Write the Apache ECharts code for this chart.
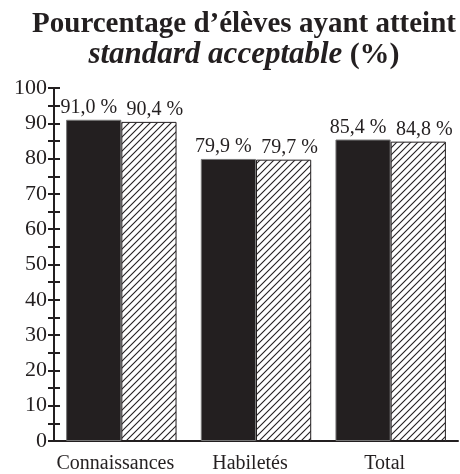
<!DOCTYPE html>
<html>
<head>
<meta charset="utf-8">
<script src="https://cdn.jsdelivr.net/npm/echarts@6/dist/echarts.min.js"></script>
<style>
  html, body { margin: 0; padding: 0; background: #fff; }
  #main { width: 460px; height: 474px; }
</style>
</head>
<body>
<div id="main"></div>
<script>
// donnees du graphique
var categories = ["Connaissances", "Habiletés", "Total"];
var serieNoire = [91.0, 79.9, 85.4];
var serieHachuree = [90.4, 79.7, 84.8];
var yTicks = [0, 10, 20, 30, 40, 50, 60, 70, 80, 90, 100];

var encre = "#231f20";
var police = "Liberation Serif";

// motif hachure "/"
function hachure() {
  var c = document.createElement("canvas");
  c.width = 7;
  c.height = 7;
  var ctx = c.getContext("2d");
  ctx.fillStyle = "#fff";
  ctx.fillRect(0, 0, 7, 7);
  ctx.strokeStyle = encre;
  ctx.lineWidth = 1.1;
  ctx.beginPath();
  ctx.moveTo(-1, 8); ctx.lineTo(8, -1);
  ctx.moveTo(-8, 8); ctx.lineTo(1, -1);
  ctx.moveTo(6, 8); ctx.lineTo(15, -1);
  ctx.stroke();
  return c;
}

function fmt(v) {
  return v.toFixed(1).replace(".", ",") + " %";
}

var myChart = echarts.init(document.getElementById("main"));
var yBase = {
  type: "value",
  min: yTicks[0],
  max: yTicks[yTicks.length - 1],
  interval: 5,
  position: "left",
  splitLine: { show: false }
};

function etiquette(dx) {
  return {
    show: true,
    position: "top",
    distance: 2,
    offset: [dx, 0],
    fontFamily: police,
    fontSize: 20,
    color: encre,
    formatter: function (p) { return fmt(p.value); }
  };
}

myChart.setOption({
  animation: false,
  textStyle: { fontFamily: police, color: encre },
  title: {
    text: "Pourcentage d’élèves ayant atteint\n{i|standard acceptable} {b|(%)}",
    left: 239,
    top: 5,
    textAlign: "center",
    textStyle: {
      fontFamily: police,
      fontWeight: "bold",
      fontSize: 29,
      lineHeight: 30,
      color: encre,
      rich: {
        i: { fontFamily: police, fontWeight: "bold", fontStyle: "italic", fontSize: 31, lineHeight: 30, color: encre },
        b: { fontFamily: police, fontWeight: "bold", fontSize: 30, lineHeight: 30, color: encre }
      }
    }
  },
  grid: { left: 54, right: 2, top: 88, bottom: 32, containLabel: false },
  xAxis: {
    type: "category",
    data: categories,
    axisLine: { lineStyle: { color: encre, width: 2 } },
    axisTick: {
      show: true,
      inside: true,
      length: 6,
      lineStyle: { color: encre, width: 2 },
      interval: function (i) { return i === 3; }
    },
    axisLabel: {
      interval: 0,
      hideOverlap: false,
      fontFamily: police,
      fontSize: 20,
      color: encre,
      margin: 13,
      padding: [0, 12, 0, 0]
    }
  },
  yAxis: [
    Object.assign({}, yBase, {
      axisLine: { show: true, lineStyle: { color: encre, width: 2 } },
      axisTick: { show: true, length: 6, lineStyle: { color: encre, width: 2 } },
      axisLabel: {
        fontFamily: police,
        fontSize: 22,
        color: encre,
        margin: 7,
        formatter: function (v) { return yTicks.indexOf(v) >= 0 ? String(v) : ""; }
      }
    }),
    Object.assign({}, yBase, {
      axisLine: { show: false },
      axisTick: { show: true, inside: true, length: 6, lineStyle: { color: encre, width: 2 } },
      axisLabel: { show: false }
    })
  ],
  series: [
    {
      type: "bar",
      data: serieNoire,
      barGap: "0%",
      barCategoryGap: "18%",
      itemStyle: { color: encre, borderColor: "#777", borderWidth: 1 },
      label: etiquette(-5)
    },
    {
      type: "bar",
      data: serieHachuree,
      itemStyle: {
        color: { image: hachure(), repeat: "repeat" },
        borderColor: encre,
        borderWidth: 1
      },
      label: etiquette(6)
    }
  ]
});
</script>
</body>
</html>
